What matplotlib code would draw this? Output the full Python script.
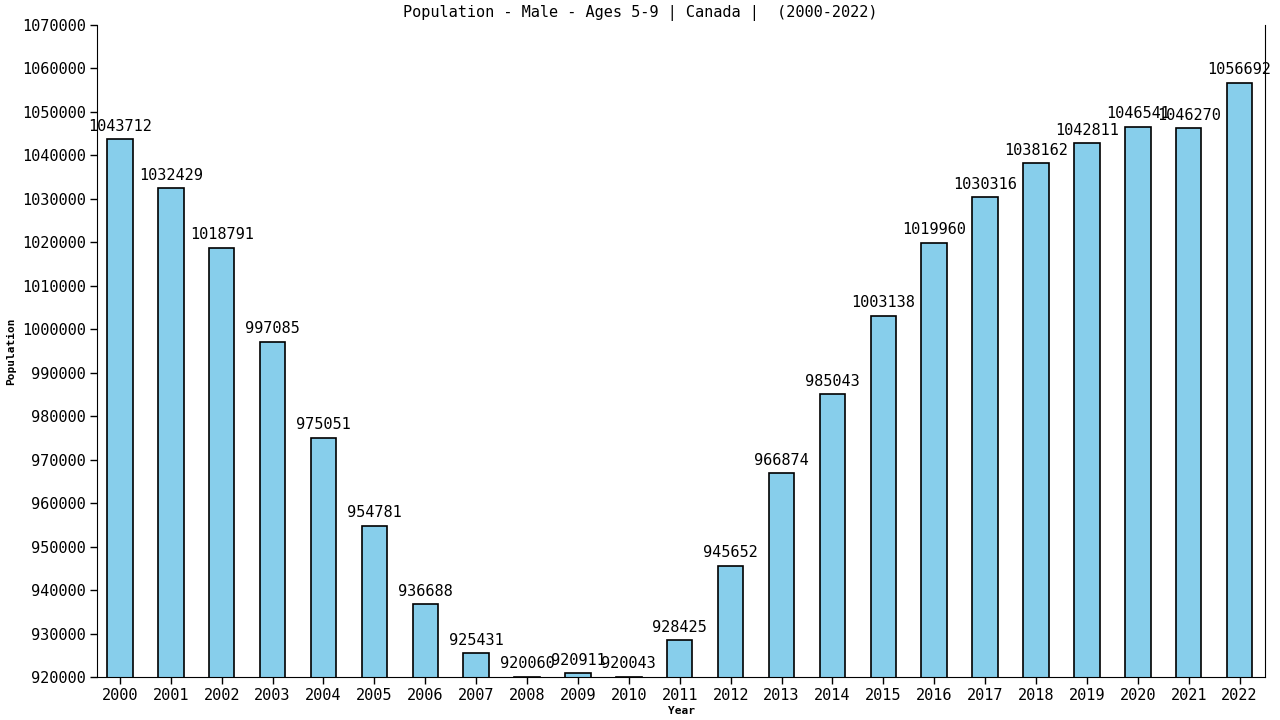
import matplotlib
matplotlib.use("Agg")
import matplotlib.pyplot as plt
import numpy as np

years = [str(y) for y in range(2000, 2023)]
population = [1043712, 1032429, 1018791, 997085, 975051, 954781, 936688, 925431,
              920060, 920911, 920043, 928425, 945652, 966874, 985043, 1003138,
              1019960, 1030316, 1038162, 1042811, 1046541, 1046270, 1056692]
y_ticks = list(range(920000, 1070001, 10000))

plt.rcParams['font.family'] = ['DejaVu Sans Mono']

fig = plt.figure(figsize=(12.8, 7.2), dpi=100)
ax = fig.add_axes([0.0758, 0.0597, 0.9125, 0.9056])

x = np.arange(len(years))
bars = ax.bar(x, population, width=0.5, color='#87CEEB', edgecolor='black', linewidth=1.2)
for xi, val in zip(x, population):
    ax.annotate(str(val), (xi, val), xytext=(0, 4), textcoords='offset points',
                ha='center', va='bottom', fontsize=11)

ax.set_xlim(-0.45, 22.5)
ax.set_ylim(920000, 1070000)
ax.set_yticks(y_ticks)
ax.set_yticklabels([str(t) for t in y_ticks], fontsize=11)
ax.set_xticks(x)
ax.set_xticklabels(years, fontsize=11)
ax.spines['top'].set_visible(False)
ax.tick_params(axis='both', length=5, width=1, direction='out', pad=3)

ax.set_xlabel("Year", fontsize=8, fontweight='bold', labelpad=2)
ax.set_ylabel("Population", fontsize=8, fontweight='bold')
fig.text(0.5, 1 - 13 / 720, "Population - Male - Ages 5-9 | Canada |  (2000-2022)",
         ha='center', va='center', fontsize=11)

fig.savefig("out.png", dpi=100)
plt.close(fig)
